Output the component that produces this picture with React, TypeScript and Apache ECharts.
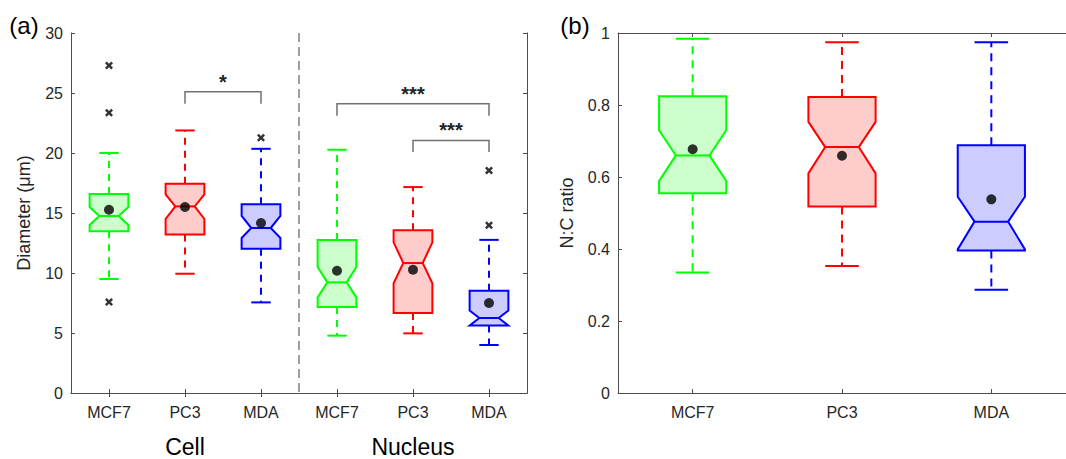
import React, { useEffect, useRef } from 'react';
import * as echarts from 'echarts';

// ---------- Panel (a): diameter ----------
const diameterCategories = ['MCF7', 'PC3', 'MDA', 'MCF7', 'PC3', 'MDA'];
const diameterLow = [9.5, 9.94, 7.55, 4.78, 4.97, 4.0];
const diameterQ1 = [13.47, 13.2, 12.03, 7.17, 6.67, 5.62];
const diameterNotchLow = [14.0, 14.5, 12.92, 7.95, 9.15, 5.62];
const diameterMedian = [14.75, 15.55, 13.75, 9.22, 10.83, 6.25];
const diameterNotchHigh = [15.5, 16.55, 14.75, 10.5, 12.55, 6.88];
const diameterQ3 = [16.58, 17.44, 15.72, 12.74, 13.56, 8.52];
const diameterHigh = [20.0, 21.88, 20.35, 20.27, 17.16, 12.76];
const diameterMean = [15.27, 15.5, 14.17, 10.19, 10.27, 7.5];
const diameterOutliers = [
  [0, 27.3], [0, 23.36], [0, 7.58], [2, 21.28], [5, 18.55], [5, 13.97],
];
const diameterMin = 0;
const diameterMax = 30;
const diameterStep = 5;
const separatorAfterIndex = 2;
const groupLabels = ['Cell', 'Nucleus'];

// significance brackets
const bracketFrom = [1, 3, 4];
const bracketTo = [2, 5, 5];
const bracketBar = [25.1, 24.1, 21.05];
const bracketLeg = [24.1, 23.1, 20.08];
const bracketTextY = [26.3, 25.33, 22.3];
const bracketText = ['*', '***', '***'];

// ---------- Panel (b): N:C ratio ----------
const ratioCategories = ['MCF7', 'PC3', 'MDA'];
const ratioLow = [0.335, 0.353, 0.287];
const ratioQ1 = [0.555, 0.518, 0.396];
const ratioNotchLow = [0.589, 0.61, 0.399];
const ratioMedian = [0.66, 0.683, 0.476];
const ratioNotchHigh = [0.73, 0.753, 0.545];
const ratioQ3 = [0.824, 0.822, 0.688];
const ratioHigh = [0.984, 0.974, 0.974];
const ratioMean = [0.677, 0.659, 0.538];
const ratioMin = 0;
const ratioMax = 1;
const ratioStep = 0.2;

const edgeColors = ['#00ff00', '#ff0000', '#0000ff'];
const fillColors = ['#ccffcc', '#ffcccc', '#ccccff'];
const FONT = '"Liberation Sans", Arial, Helvetica, sans-serif';
const AXIS_COLOR = '#4d4d4d';
const TEXT_COLOR = '#262626';

function boxRows(lo: number[], q1: number[], nlo: number[], med: number[], nhi: number[], q3: number[], hi: number[]) {
  return lo.map((_, i) => [i, lo[i], q1[i], nlo[i], med[i], nhi[i], q3[i], hi[i]]);
}

function makeBoxRender(widthFrac: number, dash: number[]) {
  return (params: any, api: any) => {
    const xv = api.value(0);
    const yOf = (v: number) => api.coord([xv, v])[1];
    const cx = api.coord([xv, api.value(4)])[0];
    const band = api.size([1, 0])[0];
    const w = band * widthFrac;
    const L = cx - w / 2;
    const R = cx + w / 2;
    const n = w / 4;
    const yLo = yOf(api.value(1));
    const yQ1 = yOf(api.value(2));
    const yNlo = yOf(api.value(3));
    const yMed = yOf(api.value(4));
    const yNhi = yOf(api.value(5));
    const yQ3 = yOf(api.value(6));
    const yHi = yOf(api.value(7));
    const idx = params.dataIndex % 3;
    const edge = edgeColors[idx];
    const fill = fillColors[idx];
    return {
      type: 'group',
      children: [
        { type: 'line', shape: { x1: cx, y1: yQ3, x2: cx, y2: yHi }, style: { stroke: edge, lineWidth: 2, lineDash: dash } },
        { type: 'line', shape: { x1: cx, y1: yQ1, x2: cx, y2: yLo }, style: { stroke: edge, lineWidth: 2, lineDash: dash } },
        { type: 'line', shape: { x1: cx - w / 4, y1: yHi, x2: cx + w / 4, y2: yHi }, style: { stroke: edge, lineWidth: 2 } },
        { type: 'line', shape: { x1: cx - w / 4, y1: yLo, x2: cx + w / 4, y2: yLo }, style: { stroke: edge, lineWidth: 2 } },
        {
          type: 'polygon',
          shape: {
            points: [
              [L, yQ3], [R, yQ3], [R, yNhi], [R - n, yMed], [R, yNlo], [R, yQ1],
              [L, yQ1], [L, yNlo], [L + n, yMed], [L, yNhi],
            ],
          },
          style: { fill, stroke: edge, lineWidth: 2, lineJoin: 'miter' },
        },
        { type: 'line', shape: { x1: L + n, y1: yMed, x2: R - n, y2: yMed }, style: { stroke: edge, lineWidth: 2 } },
      ],
    };
  };
}

const xMarker = 'path://M0,2.2L2.2,0L5,2.8L7.8,0L10,2.2L7.2,5L10,7.8L7.8,10L5,7.2L2.2,10L0,7.8L2.8,5Z';

function bottomCategoryAxis(gridIndex: number, data: string[]) {
  return {
    type: 'category',
    gridIndex,
    position: 'bottom',
    data,
    boundaryGap: true,
    axisLine: { show: true, lineStyle: { color: AXIS_COLOR, width: 1 } },
    axisTick: { show: true, inside: true, alignWithLabel: true, length: 4, lineStyle: { color: AXIS_COLOR } },
    axisLabel: { show: true, interval: 0, margin: 11, fontSize: 16, color: TEXT_COLOR, fontFamily: FONT },
    splitLine: { show: false },
  };
}

function topCategoryAxis(gridIndex: number, data: string[]) {
  return {
    type: 'category',
    gridIndex,
    position: 'top',
    data,
    boundaryGap: true,
    axisLine: { show: true, lineStyle: { color: AXIS_COLOR, width: 1 } },
    axisTick: { show: true, inside: true, alignWithLabel: true, length: 4, lineStyle: { color: AXIS_COLOR } },
    axisLabel: { show: false },
    splitLine: { show: false },
  };
}

function valueAxis(gridIndex: number, position: string, min: number, max: number, interval: number, labels: boolean) {
  return {
    type: 'value',
    gridIndex,
    position,
    min,
    max,
    interval,
    axisLine: { show: true, lineStyle: { color: AXIS_COLOR, width: 1 } },
    axisTick: { show: true, inside: true, length: 4, lineStyle: { color: AXIS_COLOR } },
    axisLabel: { show: labels, margin: 8, fontSize: 16, color: TEXT_COLOR, fontFamily: FONT },
    splitLine: { show: false },
  };
}

const option: any = {
  animation: false,
  backgroundColor: '#ffffff',
  grid: [
    { left: 71, top: 33, width: 456, height: 360 },
    { left: 618, top: 33, width: 456, height: 360 },
  ],
  xAxis: [
    bottomCategoryAxis(0, diameterCategories),
    topCategoryAxis(0, diameterCategories),
    bottomCategoryAxis(1, ratioCategories),
    topCategoryAxis(1, ratioCategories),
  ],
  yAxis: [
    valueAxis(0, 'left', diameterMin, diameterMax, diameterStep, true),
    valueAxis(0, 'right', diameterMin, diameterMax, diameterStep, false),
    valueAxis(1, 'left', ratioMin, ratioMax, ratioStep, true),
  ],
  graphic: [
    { type: 'text', x: 24, y: 25, style: { text: '(a)', fontSize: 24, fill: '#000', align: 'center', verticalAlign: 'middle', fontFamily: FONT } },
    { type: 'text', x: 575, y: 25, style: { text: '(b)', fontSize: 24, fill: '#000', align: 'center', verticalAlign: 'middle', fontFamily: FONT } },
    { type: 'text', x: 24, y: 213, rotation: Math.PI / 2, style: { text: 'Diameter (μm)', fontSize: 18, fill: TEXT_COLOR, align: 'center', verticalAlign: 'middle', fontFamily: FONT } },
    { type: 'text', x: 567, y: 213, rotation: Math.PI / 2, style: { text: 'N:C ratio', fontSize: 18, fill: TEXT_COLOR, align: 'center', verticalAlign: 'middle', fontFamily: FONT } },
    { type: 'text', x: 185, y: 447, style: { text: groupLabels[0], fontSize: 23, fill: '#000', align: 'center', verticalAlign: 'middle', fontFamily: FONT } },
    { type: 'text', x: 413, y: 447, style: { text: groupLabels[1], fontSize: 23, fill: '#000', align: 'center', verticalAlign: 'middle', fontFamily: FONT } },
  ],
  series: [
    // separator
    {
      type: 'custom',
      xAxisIndex: 0,
      yAxisIndex: 0,
      encode: { x: 0, y: [1, 2] },
      data: [[separatorAfterIndex, diameterMin, diameterMax]],
      silent: true,
      z: 1,
      renderItem: (params: any, api: any) => {
        const band = api.size([1, 0])[0];
        const p0 = api.coord([api.value(0), api.value(1)]);
        const p1 = api.coord([api.value(0), api.value(2)]);
        const x = p0[0] + band / 2;
        return {
          type: 'line',
          shape: { x1: x, y1: p1[1], x2: x, y2: p0[1] },
          style: { stroke: '#808080', lineWidth: 1.5, lineDash: [9, 5] },
        };
      },
    },
    // boxes (a)
    {
      type: 'custom',
      xAxisIndex: 0,
      yAxisIndex: 0,
      encode: { x: 0, y: [1, 2, 3, 4, 5, 6, 7] },
      data: boxRows(diameterLow, diameterQ1, diameterNotchLow, diameterMedian, diameterNotchHigh, diameterQ3, diameterHigh),
      renderItem: makeBoxRender(0.51, [7, 6]),
      z: 2,
      silent: true,
    },
    // brackets
    {
      type: 'custom',
      xAxisIndex: 0,
      yAxisIndex: 0,
      encode: { x: [0, 1], y: [2, 3, 4] },
      data: bracketFrom.map((f, i) => [f, bracketTo[i], bracketBar[i], bracketLeg[i], bracketTextY[i]]),
      silent: true,
      z: 3,
      renderItem: (params: any, api: any) => {
        const a = api.coord([api.value(0), api.value(2)]);
        const b = api.coord([api.value(1), api.value(2)]);
        const legY = api.coord([api.value(0), api.value(3)])[1];
        const ty = api.coord([api.value(0), api.value(4)])[1];
        return {
          type: 'group',
          children: [
            {
              type: 'polyline',
              shape: { points: [[a[0], legY], [a[0], a[1]], [b[0], b[1]], [b[0], legY]] },
              style: { stroke: '#707070', lineWidth: 1.5, fill: 'none' },
            },
            {
              type: 'text',
              x: (a[0] + b[0]) / 2,
              y: ty + 5,
              style: {
                text: bracketText[params.dataIndex],
                fontSize: 20,
                fontWeight: 'bold',
                fill: '#222',
                align: 'center',
                verticalAlign: 'middle',
                fontFamily: FONT,
              },
            },
          ],
        };
      },
    },
    // means (a)
    {
      type: 'scatter',
      xAxisIndex: 0,
      yAxisIndex: 0,
      data: diameterMean.map((m, i) => [i, m]),
      symbol: 'circle',
      symbolSize: 10,
      itemStyle: { color: '#000' },
      z: 5,
      silent: true,
    },
    // outliers (a)
    {
      type: 'scatter',
      xAxisIndex: 0,
      yAxisIndex: 0,
      data: diameterOutliers,
      symbol: xMarker,
      symbolSize: 8,
      itemStyle: { color: '#000' },
      z: 5,
      silent: true,
    },
    // boxes (b)
    {
      type: 'custom',
      xAxisIndex: 2,
      yAxisIndex: 2,
      encode: { x: 0, y: [1, 2, 3, 4, 5, 6, 7] },
      data: boxRows(ratioLow, ratioQ1, ratioNotchLow, ratioMedian, ratioNotchHigh, ratioQ3, ratioHigh),
      renderItem: makeBoxRender(0.45, [8, 6]),
      z: 2,
      silent: true,
    },
    // means (b)
    {
      type: 'scatter',
      xAxisIndex: 2,
      yAxisIndex: 2,
      data: ratioMean.map((m, i) => [i, m]),
      symbol: 'circle',
      symbolSize: 10,
      itemStyle: { color: '#000' },
      z: 5,
      silent: true,
    },
  ],
};

export default function App() {
  const ref = useRef<HTMLDivElement>(null);
  useEffect(() => {
    if (!ref.current) return;
    const chart = echarts.init(ref.current, null, { renderer: 'svg' });
    chart.setOption(option);
    return () => {
      chart.dispose();
    };
  }, []);
  return (
    <div
      ref={ref}
      style={{ position: 'fixed', left: 0, top: 0, width: 1066, height: 459, background: '#ffffff' }}
    />
  );
}
